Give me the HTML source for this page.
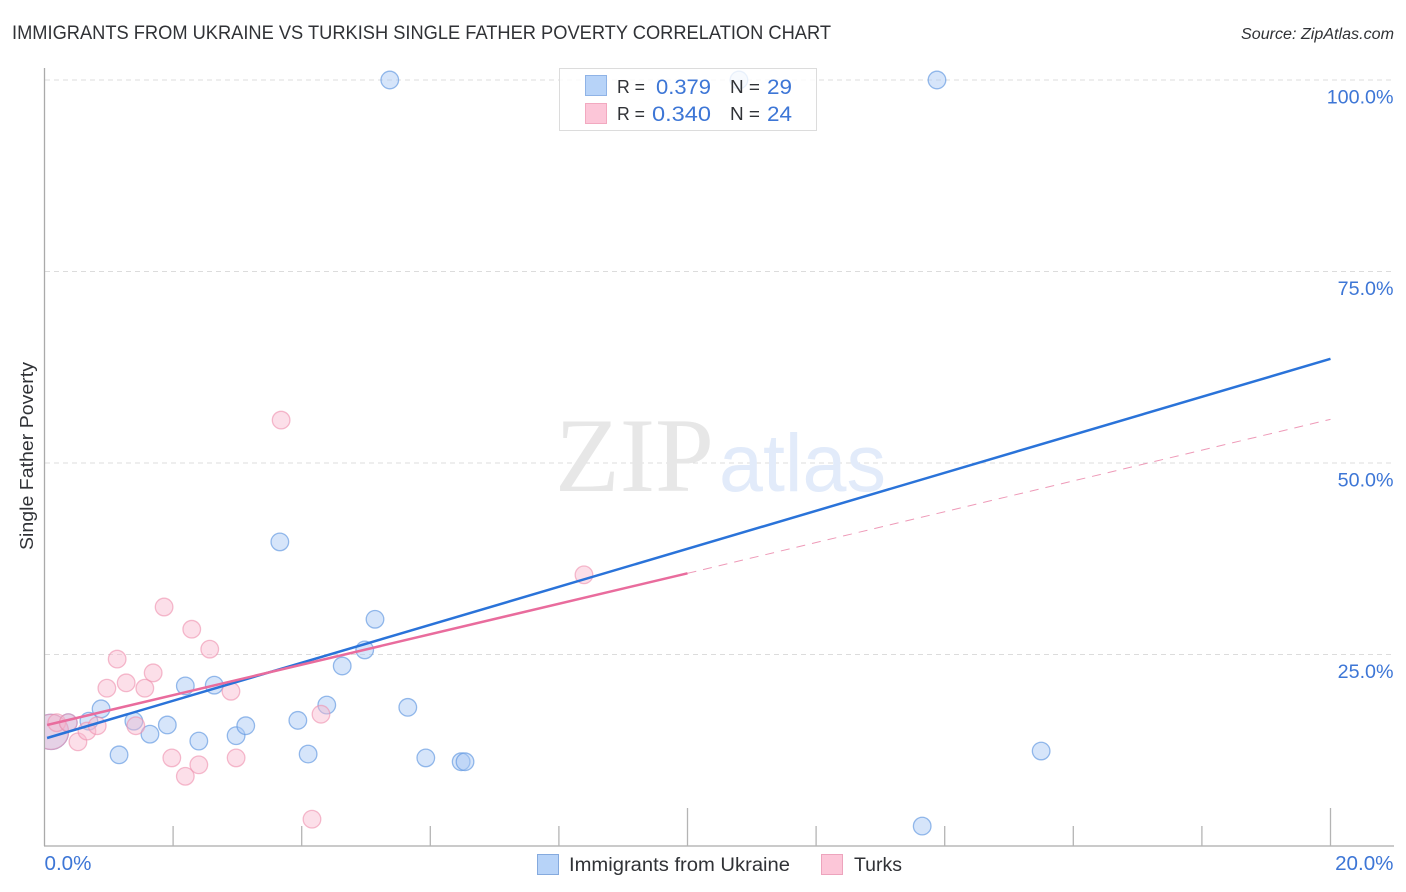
<!DOCTYPE html>
<html lang="en">
<head>
<meta charset="utf-8">
<title>Immigrants from Ukraine vs Turkish Single Father Poverty Correlation Chart</title>
<style>
html,body{margin:0;padding:0;background:#fff;width:1406px;height:892px;overflow:hidden}
svg{display:block;font-family:"Liberation Sans",sans-serif}
</style>
</head>
<body>
<svg id="chart" width="1406" height="892" viewBox="0 0 1406 892" xmlns="http://www.w3.org/2000/svg">
  <defs>
    <clipPath id="plot-clip"><rect x="45" y="60" width="1349" height="786"></rect></clipPath>
  </defs>
  <rect x="0" y="0" width="1406" height="892" fill="#fff"></rect>
  <text x="12" y="39" font-size="19.5" fill="#303236" textLength="819" lengthAdjust="spacingAndGlyphs">IMMIGRANTS FROM UKRAINE VS TURKISH SINGLE FATHER POVERTY CORRELATION CHART</text>
  <text x="1241" y="39" font-size="15.5" font-style="italic" fill="#303236" textLength="153" lengthAdjust="spacingAndGlyphs">Source: ZipAtlas.com</text>
  <g id="grid"></g>
  <g>
    <text x="555" y="491" font-family="'Liberation Serif',serif" font-size="106" fill="#e7e7e7" textLength="159" lengthAdjust="spacingAndGlyphs">ZIP</text>
    <text x="719" y="491" font-size="82" fill="#e2ebfa" textLength="167" lengthAdjust="spacingAndGlyphs">atlas</text>
  </g>
  <g id="axes"></g>
  <g id="points" clip-path="url(#plot-clip)"></g>
  <g id="trends"></g>
  <g id="tick-labels"></g>
  <text transform="translate(33,456) rotate(-90)" text-anchor="middle" font-size="18.5" fill="#303236" textLength="188" lengthAdjust="spacingAndGlyphs">Single Father Poverty</text>

  <g>
    <rect x="559.5" y="68.5" width="257" height="62" fill="#fff" fill-opacity="0.8" stroke="#dcdcdc" stroke-width="1"></rect>
    <rect x="585.5" y="75.5" width="21" height="20" fill="#b7d3f8" stroke="#8fb3e6" stroke-width="1"></rect>
    <rect x="585.5" y="103.5" width="21" height="20" fill="#fcc6d8" stroke="#f2a9c0" stroke-width="1"></rect>
    <text x="617" y="93" font-size="18" fill="#303236" textLength="28" lengthAdjust="spacingAndGlyphs">R =</text>
    <text x="656" y="94" font-size="21" fill="#3d76d6" textLength="55" lengthAdjust="spacingAndGlyphs">0.379</text>
    <text x="730" y="93" font-size="18" fill="#303236" textLength="30" lengthAdjust="spacingAndGlyphs">N =</text>
    <text x="767" y="94" font-size="21" fill="#3d76d6" textLength="25" lengthAdjust="spacingAndGlyphs">29</text>
    <text x="617" y="120" font-size="18" fill="#303236" textLength="28" lengthAdjust="spacingAndGlyphs">R =</text>
    <text x="652" y="121" font-size="21" fill="#3d76d6" textLength="59" lengthAdjust="spacingAndGlyphs">0.340</text>
    <text x="730" y="120" font-size="18" fill="#303236" textLength="30" lengthAdjust="spacingAndGlyphs">N =</text>
    <text x="767" y="121" font-size="21" fill="#3d76d6" textLength="25" lengthAdjust="spacingAndGlyphs">24</text>
  </g>

  <g>
    <rect x="537.5" y="854.5" width="21" height="20" fill="#b7d3f8" stroke="#85aade" stroke-width="1"></rect>
    <text x="569" y="871" font-size="19" fill="#303236" textLength="221" lengthAdjust="spacingAndGlyphs">Immigrants from Ukraine</text>
    <rect x="821.5" y="854.5" width="21" height="20" fill="#fcc6d8" stroke="#eda4bd" stroke-width="1"></rect>
    <text x="854" y="871" font-size="19" fill="#303236" textLength="48" lengthAdjust="spacingAndGlyphs">Turks</text>
  </g>
</svg>
<script>
// Chart data (percent values)
const ukraineX = [0.10,0.37,0.69,0.88,1.16,1.39,1.64,1.91,2.19,2.40,2.64,2.98,3.13,3.66,3.94,4.10,4.39,4.63,4.98,5.14,5.37,5.65,5.93,6.48,6.54,10.80,13.65,13.88,15.50];
const ukraineY = [14.9,16.1,16.3,17.9,11.9,16.3,14.6,15.8,20.9,13.7,21.0,14.4,15.7,39.7,16.4,12.0,18.4,23.5,25.6,29.6,100,18.1,11.5,11.0,11.0,100,2.6,100,12.4];
const ukraineWeight = [4,1,1,1,1,1,1,1,1,1,1,1,1,1,1,1,1,1,1,1,1,1,1,1,1,1,1,1,1];
const turksX = [0.10,0.19,0.37,0.52,0.66,0.82,0.97,1.13,1.27,1.42,1.56,1.69,1.86,1.98,2.19,2.29,2.40,2.57,2.90,2.98,3.68,4.16,4.30,8.39];
const turksY = [14.9,16.1,16.1,13.6,15.0,15.7,20.6,24.4,21.3,15.7,20.6,22.6,31.2,11.5,9.1,28.3,10.6,25.7,20.2,11.5,55.6,3.5,17.2,35.4];
const turksWeight = [4,1,1,1,1,1,1,1,1,1,1,1,1,1,1,1,1,1,1,1,1,1,1,1];
const ukraineTrendX = [0.04,20];
const ukraineTrendY = [14.1,63.6];
const turksTrendX = [0.04,10];
const turksTrendY = [15.8,35.6];
const turksProjectionX = [10,20];
const turksProjectionY = [35.6,55.7];
const yTickValues = [25,50,75,100];
const yTickLabels = ["25.0%","50.0%","75.0%","100.0%"];
const xTickValues = [2,4,6,8,10,12,14,16,18,20];
const xMajorTicks = [10,20];
const xEdgeValues = [0,20];
const xEdgeLabels = ["0.0%","20.0%"];

const NS = "http://www.w3.org/2000/svg";
function xScale(v){ return 44.5 + v * 64.3; }
function yScale(v){ return 846 - v * 7.66; }
function make(tag, parentId, attrs){
  const el = document.createElementNS(NS, tag);
  for (const k in attrs) el.setAttribute(k, attrs[k]);
  document.getElementById(parentId).appendChild(el);
  return el;
}

// Gridlines
yTickValues.forEach(function(v){
  const el = make("line", "grid", {x1:45, x2:1394, y1:yScale(v), y2:yScale(v), stroke:"#dcdcdc", "stroke-width":1, "stroke-dasharray":"5 4"});
  
  
});

// Axes and ticks
const yAxis = make("line", "axes", {x1:44.5, x2:44.5, y1:68, y2:846, stroke:"#aaaaaa", "stroke-width":1.3});


const xAxis = make("line", "axes", {x1:44, x2:1394, y1:846, y2:846, stroke:"#aaaaaa", "stroke-width":1.3});


xTickValues.forEach(function(v){
  const top = xMajorTicks.indexOf(v) >= 0 ? 808 : 826;
  const el = make("line", "axes", {x1:xScale(v), x2:xScale(v), y1:top, y2:846, stroke:"#b4b4b4", "stroke-width":1.3});
  
  
});

// Tick labels
yTickValues.forEach(function(v, i){
  const el = make("text", "tick-labels", {x:1393.5, y:yScale(v) + 23.5, "text-anchor":"end", "font-size":19.7, fill:"#3d76d6"});
  el.textContent = yTickLabels[i];
  
  
});
xEdgeValues.forEach(function(v, i){
  const el = make("text", "tick-labels", {x: v === 0 ? xScale(v) : 1393.5, y:870, "text-anchor": v === 0 ? "start" : "end", "font-size":20.6, fill:"#3d76d6"});
  el.textContent = xEdgeLabels[i];
  
  
});

// Points
ukraineX.forEach(function(v, i){
  const el = make("circle", "points", {cx:xScale(v), cy:yScale(ukraineY[i]), r:8.8 * Math.sqrt(ukraineWeight[i]), fill:"#a9c9f5", "fill-opacity":0.48, stroke:"#5f97e0", "stroke-opacity":0.65, "stroke-width":1.3});
  
  
});
turksX.forEach(function(v, i){
  const el = make("circle", "points", {cx:xScale(v), cy:yScale(turksY[i]), r:8.8 * Math.sqrt(turksWeight[i]), fill:"#f9b9ce", "fill-opacity":0.45, stroke:"#ee8fae", "stroke-opacity":0.6, "stroke-width":1.3});
  
  
});

// Trend lines
const projection = make("line", "trends", {x1:xScale(turksProjectionX[0]), y1:yScale(turksProjectionY[0]), x2:xScale(turksProjectionX[1]), y2:yScale(turksProjectionY[1]), stroke:"#ee9ab8", "stroke-width":1, "stroke-dasharray":"9 7"});


const ukraineTrend = make("line", "trends", {x1:xScale(ukraineTrendX[0]), y1:yScale(ukraineTrendY[0]), x2:xScale(ukraineTrendX[1]), y2:yScale(ukraineTrendY[1]), stroke:"#2a73d9", "stroke-width":2.5});


const turksTrend = make("line", "trends", {x1:xScale(turksTrendX[0]), y1:yScale(turksTrendY[0]), x2:xScale(turksTrendX[1]), y2:yScale(turksTrendY[1]), stroke:"#e96c9d", "stroke-width":2.5});


</script>
</body>
</html>
